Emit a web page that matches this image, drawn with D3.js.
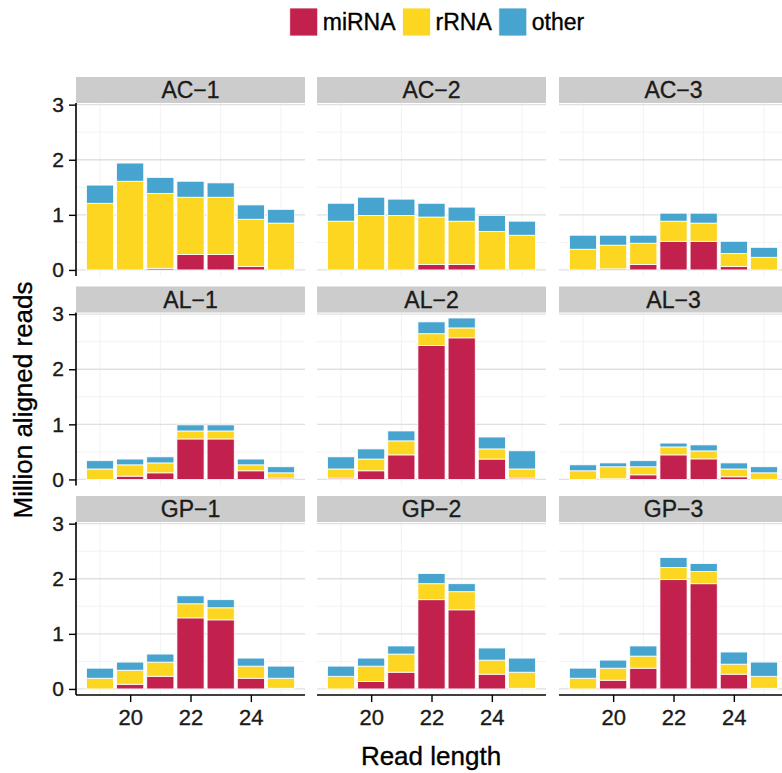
<!DOCTYPE html>
<html>
<head>
<meta charset="utf-8">
<script src="https://cdn.jsdelivr.net/npm/d3@7"></script>
<style>
  html, body { margin: 0; padding: 0; background: #fff; }
  svg { display: block; font-family: "Liberation Sans", Arial, sans-serif; }
  .ink { stroke-width: 0.35px; paint-order: stroke; }
</style>
</head>
<body>
<svg id="chart" width="782" height="773"></svg>
<script>
// Read-length distribution of aligned small RNA reads, one panel per sample
const samples = ["AC−1", "AC−2", "AC−3", "AL−1", "AL−2", "AL−3", "GP−1", "GP−2", "GP−3"];
const readLengths = [19, 20, 21, 22, 23, 24, 25];
const categories = ["miRNA", "rRNA", "other"];
const xTicks = [20, 22, 24];
const yTicks = [0, 1, 2, 3];

// Million reads per read length, one row per sample
const miRNA = [
  [0, 0, 0.03, 0.28, 0.28, 0.06, 0],
  [0, 0, 0, 0.10, 0.10, 0, 0],
  [0, 0.02, 0.10, 0.52, 0.52, 0.06, 0],
  [0, 0.06, 0.12, 0.735, 0.735, 0.157, 0.024],
  [0.024, 0.157, 0.446, 2.43, 2.57, 0.37, 0.024],
  [0, 0.012, 0.084, 0.446, 0.373, 0.048, 0],
  [0, 0.085, 0.23, 1.29, 1.254, 0.195, 0.012],
  [0, 0.134, 0.304, 1.62, 1.436, 0.268, 0.012],
  [0, 0.158, 0.377, 1.984, 1.91, 0.268, 0.012]
];
const rRNA = [
  [1.21, 1.61, 1.36, 1.04, 1.04, 0.86, 0.85],
  [0.885, 0.99, 0.99, 0.86, 0.785, 0.70, 0.63],
  [0.376, 0.43, 0.385, 0.365, 0.33, 0.24, 0.23],
  [0.19, 0.205, 0.18, 0.145, 0.145, 0.108, 0.096],
  [0.166, 0.213, 0.254, 0.215, 0.18, 0.184, 0.166],
  [0.157, 0.218, 0.146, 0.144, 0.145, 0.142, 0.12],
  [0.195, 0.255, 0.257, 0.256, 0.219, 0.219, 0.183],
  [0.23, 0.28, 0.329, 0.29, 0.329, 0.255, 0.292],
  [0.195, 0.219, 0.219, 0.219, 0.22, 0.182, 0.218]
];
const other = [
  [0.33, 0.33, 0.29, 0.29, 0.26, 0.26, 0.25],
  [0.325, 0.33, 0.295, 0.25, 0.255, 0.29, 0.255],
  [0.254, 0.18, 0.145, 0.145, 0.18, 0.22, 0.18],
  [0.15, 0.105, 0.11, 0.11, 0.11, 0.105, 0.11],
  [0.22, 0.184, 0.18, 0.215, 0.18, 0.216, 0.33],
  [0.108, 0.07, 0.11, 0.07, 0.109, 0.11, 0.11],
  [0.182, 0.147, 0.146, 0.144, 0.147, 0.146, 0.219],
  [0.184, 0.146, 0.147, 0.184, 0.145, 0.22, 0.256],
  [0.182, 0.146, 0.184, 0.183, 0.146, 0.22, 0.257]
];

const colors = { miRNA: "#C2214D", rRNA: "#FDD621", other: "#46A4CE" };
const seriesByName = { miRNA, rRNA, other };

// Facet grid geometry
const colLeft = [76, 317, 559];
const rowTop = [103, 312.5, 522];
const panelW = 229, panelH = 173, stripH = 26;
const barWidth = 0.9;

const svg = d3.select("#chart");

// Shared scales (fixed across facets)
const x = d3.scaleLinear()
  .domain([d3.min(readLengths) - barWidth / 2 - 0.345, d3.max(readLengths) + barWidth / 2 + 0.345])
  .range([0, panelW]);
const y = d3.scaleLinear().domain([-0.11, 3.03]).range([panelH, 0]);

const stack = d3.stack().keys(categories);

samples.forEach((name, si) => {
  const col = si % 3, row = Math.floor(si / 3);
  const g = svg.append("g").attr("transform", `translate(${colLeft[col]},${rowTop[row]})`);

  // strip
  svg.append("rect")
    .attr("x", colLeft[col]).attr("y", rowTop[row] - stripH)
    .attr("width", panelW).attr("height", stripH)
    .attr("fill", "#CCCCCC");
  svg.append("text").attr("class", "ink")
    .attr("x", colLeft[col] + panelW / 2).attr("y", rowTop[row] - stripH / 2)
    .attr("dy", "0.36em").attr("text-anchor", "middle")
    .attr("font-size", 23).attr("fill", "#1a1a1a").attr("stroke", "#1a1a1a")
    .text(name);

  // grid
  const minorY = [0.5, 1.5, 2.5];
  g.selectAll(".gminy").data(minorY).join("line")
    .attr("x1", 0).attr("x2", panelW)
    .attr("y1", d => y(d)).attr("y2", d => y(d))
    .attr("stroke", "#F2F2F2").attr("stroke-width", 1);
  g.selectAll(".gminx").data([19, 21, 23, 25]).join("line")
    .attr("x1", d => x(d)).attr("x2", d => x(d))
    .attr("y1", 0).attr("y2", panelH)
    .attr("stroke", "#F2F2F2").attr("stroke-width", 1);
  g.selectAll(".gmaj").data(yTicks).join("line")
    .attr("x1", 0).attr("x2", panelW)
    .attr("y1", d => y(d)).attr("y2", d => y(d))
    .attr("stroke", "#E0E0E0").attr("stroke-width", 1.3);

  // stacked bars
  const rows = readLengths.map((len, i) => ({
    len,
    miRNA: seriesByName.miRNA[si][i],
    rRNA: seriesByName.rRNA[si][i],
    other: seriesByName.other[si][i]
  }));
  const layers = stack(rows);
  const bw = x(barWidth) - x(0);
  layers.forEach(layer => {
    g.append("g").selectAll("rect")
      .data(layer.filter(d => d[1] - d[0] > 0))
      .join("rect")
      .attr("x", d => x(d.data.len) - bw / 2)
      .attr("width", bw)
      .attr("y", d => y(d[1]))
      .attr("height", d => y(d[0]) - y(d[1]))
      .attr("fill", colors[layer.key])
      .attr("stroke", "#fff").attr("stroke-width", 0.8);
  });

  // y axis on the first column
  if (col === 0) {
    const ax = g.append("g")
      .call(d3.axisLeft(y).tickValues(yTicks).tickFormat(d3.format("d")).tickSize(7).tickPadding(5));
    ax.select(".domain").attr("d", `M0,0V${panelH}`).attr("stroke", "#000").attr("stroke-width", 1.6);
    ax.selectAll(".tick line").attr("stroke", "#000").attr("stroke-width", 1.4);
    ax.selectAll(".tick text").attr("class", "ink").attr("font-size", 21)
      .attr("fill", "#1a1a1a").attr("stroke", "#1a1a1a")
      .attr("font-family", "Liberation Sans, Arial, sans-serif");
  }
  // x axis on the bottom row
  if (row === 2) {
    const ax = g.append("g").attr("transform", `translate(0,${panelH})`)
      .call(d3.axisBottom(x).tickValues(xTicks).tickFormat(d3.format("d")).tickSize(7).tickPadding(7));
    ax.select(".domain").attr("d", `M0,0H${panelW}`).attr("stroke", "#000").attr("stroke-width", 1.6);
    ax.selectAll(".tick line").attr("stroke", "#000").attr("stroke-width", 1.4);
    ax.selectAll(".tick text").attr("class", "ink").attr("font-size", 22)
      .attr("fill", "#1a1a1a").attr("stroke", "#1a1a1a")
      .attr("font-family", "Liberation Sans, Arial, sans-serif");
  }
});

// axis titles
svg.append("text").attr("class", "ink")
  .attr("transform", "translate(32,400) rotate(-90)")
  .attr("text-anchor", "middle").attr("font-size", 26)
  .attr("fill", "#000").attr("stroke", "#000")
  .text("Million aligned reads");
svg.append("text").attr("class", "ink")
  .attr("x", 431).attr("y", 765)
  .attr("text-anchor", "middle").attr("font-size", 26)
  .attr("fill", "#000").attr("stroke", "#000")
  .text("Read length");

// legend, laid out left to right and centred
const legend = svg.append("g");
const keySize = 28, keyGap = 5, itemGap = 7;
let cursor = 0;
categories.forEach(c => {
  const item = legend.append("g").attr("transform", `translate(${cursor},0)`);
  item.append("rect").attr("x", 0).attr("y", 8).attr("width", keySize).attr("height", keySize)
    .attr("fill", colors[c]).attr("stroke", "#fff").attr("stroke-width", 0.8);
  const t = item.append("text").attr("class", "ink")
    .attr("x", keySize + keyGap).attr("y", 22).attr("dy", "0.36em")
    .attr("font-size", 23).attr("fill", "#000").attr("stroke", "#000").text(c);
  cursor += keySize + keyGap + t.node().getComputedTextLength() + itemGap;
});
const legendW = cursor - itemGap;
legend.attr("transform", `translate(${437 - legendW / 2},0)`);
</script>
</body>
</html>
